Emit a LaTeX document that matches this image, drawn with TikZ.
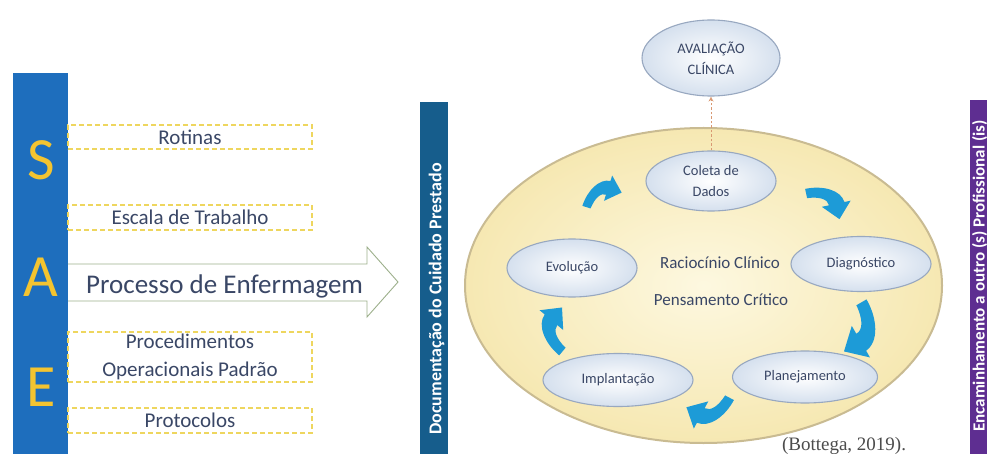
\documentclass[tikz,border=0pt]{standalone}
\usepackage{fontspec}
\setmainfont{Carlito}
\newfontfamily\citefont{Liberation Serif}
\usetikzlibrary{shapes.geometric,arrows.meta,shadings}
\definecolor{saeblue}{HTML}{1E6EBD}
\definecolor{saegold}{HTML}{F4C430}
\definecolor{docblue}{HTML}{165D8C}
\definecolor{encpurple}{HTML}{5E2E91}
\definecolor{txtnavy}{HTML}{3A4766}
\definecolor{dashyellow}{HTML}{EED65E}
\definecolor{arrowline}{HTML}{9DB08C}
\definecolor{cycblue}{HTML}{1D9BD7}
\definecolor{ellborder}{HTML}{98A8C0}
\definecolor{ellouter}{HTML}{D5E0EE}
\definecolor{biginner}{HTML}{FDF8E0}
\definecolor{bigouter}{HTML}{F6E8B2}
\definecolor{bigborder}{HTML}{C9BB92}
\newcommand{\myfs}[2]{\fontsize{#1}{#2}\selectfont}
\begin{document}
\begin{tikzpicture}[x=1pt,y=-1pt,
  bar/.style={anchor=north west,inner sep=0pt,outer sep=0pt},
  saeletter/.style={text=saegold,font=\myfs{60}{60},inner sep=0pt},
  dbox/.style={draw=dashyellow,dashed,line width=1.1pt,dash pattern=on 5pt off 3pt,
    minimum width=244,inner sep=0pt,text=txtnavy,font=\myfs{21}{28},align=center},
  stage/.style={ellipse,draw=ellborder,line width=1.1pt,inner color=white,outer color=ellouter,
    text=txtnavy,font=\myfs{14.5}{21},align=center,inner sep=0pt},
  bartext/.style={rotate=90,text=white,font=\bfseries\myfs{18}{20},inner sep=0pt},
  carrow/.pic={\fill[cycblue] (-4,0) .. controls (-4,-17) and (4,-33) .. (16,-34) -- (16,-40) -- (31,-26) -- (16,-12) -- (16,-19) .. controls (10,-19) and (6,-12) .. (5,0) -- cycle;}
]
\clip (0,0) rectangle (987,454);
\fill[white] (0,0) rectangle (987,454);

% left SAE bar
\node[bar,fill=saeblue,minimum width=55,minimum height=381] (saebar) at (13,73) {};
\node[saeletter] (S) at (41,160) {S};
\node[saeletter] (A) at (41,277) {A};
\node[saeletter] (E) at (41,387) {E};

% dashed boxes
\node[dbox,minimum height=24] (rot) at (190,137) {Rotinas};
\node[dbox,minimum height=25] (esc) at (190,217.5) {Escala de Trabalho};
\node[dbox,minimum height=50] (pop) at (190,357) {Procedimentos\\Operacionais Padrão};
\node[dbox,minimum height=25] (prot) at (190,420.5) {Protocolos};

% big arrow
\draw[arrowline,line width=0.9pt,fill=white] (68,264) -- (367,264) -- (367,247) -- (398,282) -- (367,317) -- (367,301) -- (68,301);
\node[anchor=base west,text=txtnavy,font=\myfs{27}{27},inner sep=0pt] (proc) at (86,293) {Processo de Enfermagem};

% documentation bar
\node[bar,fill=docblue,minimum width=28,minimum height=352] (docbar) at (420,102) {};
\node[bartext] (doctext) at (436.5,299) {Documentação do Cuidado Prestado};

% purple bar
\node[bar,fill=encpurple,minimum width=30,minimum height=354] (encbar) at (970,100) {};
\node[bartext,font=\bfseries\myfs{17}{20}] (enctext) at (979.5,276) {Encaminhamento a outro (s) Profissional (is)};

% big cycle ellipse
\node[ellipse,minimum width=477,minimum height=315,draw=bigborder,line width=2pt,
  inner color=biginner,outer color=bigouter] (cyc) at (703.5,285.5) {};

\node[stage,minimum width=138,minimum height=76] (aval) at (711,58) {AVALIAÇÃO\\CLÍNICA};
\node[stage,minimum width=130,minimum height=60] (coleta) at (711,181) {Coleta de\\Dados};
\node[stage,minimum width=130,minimum height=58] (evol) at (572,268) {Evolução};
\node[stage,minimum width=140,minimum height=55] (diag) at (861,264) {Diagnóstico};
\node[stage,minimum width=150,minimum height=53] (impl) at (618,380) {Implantação};
\node[stage,minimum width=145,minimum height=52] (plan) at (805,377) {Planejamento};

\draw[brown!60!pink,dashed,line width=0.7pt,dash pattern=on 2.5pt off 2pt,-{Stealth[open,length=5pt,width=5pt]}] (coleta.north) -- (aval.south);

\node[text=txtnavy,font=\myfs{17}{17},inner sep=0pt] (rac) at (720,263) {Raciocínio Clínico};
\node[text=txtnavy,font=\myfs{17}{17},inner sep=0pt] (pens) at (721,300) {Pensamento Crítico};

% curved cycle arrows
\pic[rotate=-18,scale=0.95] at (586,207) {carrow};
\pic[rotate=-78,scale=1.05] at (806,193) {carrow};
\pic[rotate=-150,scale=1.3] at (862,302) {carrow};
\pic[rotate=152,scale=1.1] at (730,398) {carrow};
\pic[rotate=50,scale=1.1] at (562,352) {carrow};

\node[anchor=base,text=black!70,font=\citefont\myfs{19}{19},inner sep=0pt] (cite) at (844,450) {(Bottega, 2019).};
\end{tikzpicture}
\end{document}
